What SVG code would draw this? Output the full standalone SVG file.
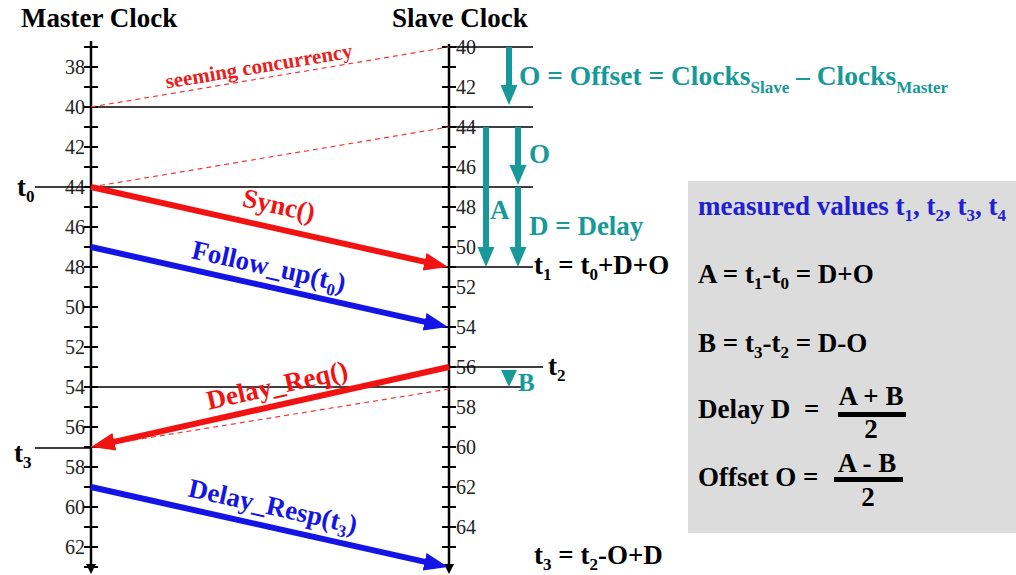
<svg xmlns="http://www.w3.org/2000/svg" width="1016" height="575" viewBox="0 0 1016 575" font-family="'Liberation Serif', serif">
<style>
.ax{stroke:#000;stroke-width:2.5;fill:none}
.tk{stroke:#000;stroke-width:2;fill:none}
.hl{stroke:#000;stroke-width:1.4;fill:none}
.dash{stroke:#f03a3a;stroke-width:1.2;stroke-dasharray:5,4;fill:none}
.red{stroke:#f21212;stroke-width:6;fill:none}
.blue{stroke:#1414e6;stroke-width:6;fill:none}
.tl{stroke:#17999a;stroke-width:6;fill:none}
.tlf{fill:#17999a}
.num{font-family:"Liberation Serif",serif;font-size:20px;fill:#222}
.b{font-family:"Liberation Serif",serif;font-weight:bold;font-size:27px}
.sub{font-size:17px}
</style>
<defs>
<marker id="ahR" markerUnits="userSpaceOnUse" markerWidth="26" markerHeight="20" viewBox="0 0 26 20" refX="12" refY="10" orient="auto"><path d="M0,1 L24,10 L0,19 z" fill="#f21212"/></marker>
<marker id="ahB" markerUnits="userSpaceOnUse" markerWidth="26" markerHeight="20" viewBox="0 0 26 20" refX="12" refY="10" orient="auto"><path d="M0,1 L24,10 L0,19 z" fill="#1414e6"/></marker>
<marker id="ahK" markerUnits="userSpaceOnUse" markerWidth="12" markerHeight="12" viewBox="0 0 12 12" refX="4" refY="6" orient="auto"><path d="M0,1 L10,6 L0,11 z" fill="#000"/></marker>
</defs>
<rect width="1016" height="575" fill="#fff"/>

<g id="titles" class="b">
<text x="21" y="27">Master Clock</text>
<text x="392" y="27">Slave Clock</text>
</g>

<g id="master-axis">
<line class="ax" x1="91" y1="41" x2="91" y2="568" marker-end="url(#ahK)"/>
<path class="tk" d="M84,47H98M84,67H98M84,87H98M84,107H98M84,127H98M84,147H98M84,167H98M84,187H98M84,207H98M84,227H98M84,247H98M84,267H98M84,287H98M84,307H98M84,327H98M84,347H98M84,367H98M84,387H98M84,407H98M84,427H98M84,447H98M84,467H98M84,487H98M84,507H98M84,527H98M84,547H98M84,567H98"/>
<g class="num" text-anchor="end">
<text x="85" y="74">38</text><text x="85" y="114">40</text><text x="85" y="154">42</text><text x="85" y="194">44</text><text x="85" y="234">46</text><text x="85" y="274">48</text><text x="85" y="314">50</text><text x="85" y="354">52</text><text x="85" y="394">54</text><text x="85" y="434">56</text><text x="85" y="474">58</text><text x="85" y="514">60</text><text x="85" y="554">62</text>
</g>
</g>

<g id="slave-axis">
<line class="ax" x1="449" y1="44" x2="449" y2="568" marker-end="url(#ahK)"/>
<path class="tk" d="M442,47H456M442,67H456M442,87H456M442,107H456M442,127H456M442,147H456M442,167H456M442,187H456M442,207H456M442,227H456M442,247H456M442,267H456M442,287H456M442,307H456M442,327H456M442,347H456M442,367H456M442,387H456M442,407H456M442,427H456M442,447H456M442,467H456M442,487H456M442,507H456M442,527H456M442,547H456"/>
<g class="num" font-size="19">
<text x="456" y="54">40</text><text x="456" y="94">42</text><text x="456" y="134">44</text><text x="456" y="174">46</text><text x="456" y="214">48</text><text x="456" y="254">50</text><text x="456" y="294">52</text><text x="456" y="334">54</text><text x="456" y="374">56</text><text x="456" y="414">58</text><text x="456" y="454">60</text><text x="456" y="494">62</text><text x="456" y="534">64</text>
</g>
</g>

<g id="time-lines">
<path class="hl" d="M449,47H533M91,107H533M449,127H533M35,187H533M449,267H533M449,367H543M91,387H522M35,448H91"/>
</g>

<g id="connectors">
<path class="dash" d="M91,107L449,47M91,187L449,127M449,389L91,447"/>
<line class="red" x1="91" y1="187" x2="436.3" y2="264.4" marker-end="url(#ahR)"/>
<line class="blue" x1="91" y1="247" x2="436.3" y2="324.4" marker-end="url(#ahB)"/>
<line class="red" x1="449" y1="367" x2="102.7" y2="444.4" marker-end="url(#ahR)"/>
<line class="blue" x1="91" y1="487" x2="436.3" y2="564.4" marker-end="url(#ahB)"/>
</g>

<g id="message-labels" class="b" text-anchor="middle">
<text fill="#e82020" style="font-size:21px" transform="translate(260,73) rotate(-9.5)">seeming concurrency</text>
<text fill="#f21212" transform="translate(277,214) rotate(12.6)">Sync()</text>
<text fill="#1414e6" transform="translate(267,275) rotate(12.6)">Follow_up(t<tspan class="sub" dy="6">0</tspan><tspan dy="-6">)</tspan></text>
<text fill="#f21212" transform="translate(279,394) rotate(-12.6)">Delay_Req()</text>
<text fill="#1414e6" transform="translate(271,515) rotate(12.6)">Delay_Resp(t<tspan class="sub" dy="6">3</tspan><tspan dy="-6">)</tspan></text>
</g>

<g id="teal-arrows">
<line class="tl" x1="509" y1="47" x2="509" y2="87"/><path class="tlf" d="M500.5,85H517.5L509,105z"/>
<line class="tl" x1="486" y1="127" x2="486" y2="249"/><path class="tlf" d="M477.5,247H494.5L486,267z"/>
<line class="tl" x1="518" y1="127" x2="518" y2="167"/><path class="tlf" d="M509.5,165H526.5L518,185z"/>
<line class="tl" x1="518" y1="187" x2="518" y2="249"/><path class="tlf" d="M509.5,247H526.5L518,267z"/>
<path class="tlf" d="M501,370H517L509,387z"/>
</g>

<g id="teal-labels" class="b" fill="#17999a">
<text x="519" y="85" style="font-size:27.5px">O = Offset = Clocks<tspan class="sub" dy="8">Slave</tspan><tspan dy="-8"> – Clocks</tspan><tspan class="sub" dy="8">Master</tspan></text>
<text x="529" y="163">O</text>
<text x="490" y="219">A</text>
<text x="529" y="235">D = Delay</text>
<text x="518" y="391" style="font-size:25px">B</text>
</g>

<g id="time-labels" class="b" fill="#000">
<text x="17" y="196">t<tspan class="sub" dy="6">0</tspan></text>
<text x="14" y="462">t<tspan class="sub" dy="6">3</tspan></text>
<text x="534" y="274">t<tspan class="sub" dy="6">1</tspan><tspan dy="-6"> = t</tspan><tspan class="sub" dy="6">0</tspan><tspan dy="-6">+D+O</tspan></text>
<text x="548" y="375">t<tspan class="sub" dy="6">2</tspan></text>
<text x="534" y="564">t<tspan class="sub" dy="6">3</tspan><tspan dy="-6"> = t</tspan><tspan class="sub" dy="6">2</tspan><tspan dy="-6">-O+D</tspan></text>
</g>

<g id="panel">
<rect x="688" y="181" width="328" height="352" fill="#dcdcdc"/>
<g class="b">
<text x="698" y="215" fill="#2020d0">measured values t<tspan class="sub" dy="6">1</tspan><tspan dy="-6">, t</tspan><tspan class="sub" dy="6">2</tspan><tspan dy="-6">, t</tspan><tspan class="sub" dy="6">3</tspan><tspan dy="-6">, t</tspan><tspan class="sub" dy="6">4</tspan></text>
<text x="698" y="283">A = t<tspan class="sub" dy="6">1</tspan><tspan dy="-6">-t</tspan><tspan class="sub" dy="6">0</tspan><tspan dy="-6"> = D+O</tspan></text>
<text x="698" y="352">B = t<tspan class="sub" dy="6">3</tspan><tspan dy="-6">-t</tspan><tspan class="sub" dy="6">2</tspan><tspan dy="-6"> = D-O</tspan></text>
<text x="698" y="418">Delay D</text>
<text x="804" y="418">=</text>
<text x="871" y="405" text-anchor="middle">A + B</text>
<text x="871" y="438" text-anchor="middle">2</text>
<text x="698" y="486">Offset O =</text>
<text x="867" y="472" text-anchor="middle">A - B</text>
<text x="868" y="506" text-anchor="middle">2</text>
</g>
<rect x="838" y="412" width="68" height="5" fill="#000"/>
<rect x="834" y="477" width="69" height="5" fill="#000"/>
</g>
</svg>
